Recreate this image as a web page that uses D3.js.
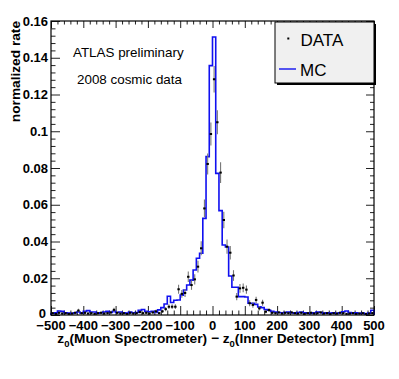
<!DOCTYPE html>
<head>
    <meta charset="utf-8">
    <style>
    body{
        margin: 0;
        background-color: white;
     }
     svg {
        background-color: white;
        font-family: 'Liberation Sans', Arial, sans-serif;
     }
     .tickLabel {
        font-size: 13px;
        font-weight: bold;
        fill: #000;
     }
     .axisTitle {
        font-size: 13.7px;
        font-weight: bold;
        fill: #000;
     }
     .note {
        font-size: 13.4px;
        fill: #000;
     }
     .legendText {
        font-size: 17px;
        fill: #000;
     }
    </style>
</head>

<body>
  <script src="https://d3js.org/d3.v7.min.js"></script>
  <script type="text/javascript">

  // DATA
  var binLow = d3.range(-500, 500, 10);   // lower edge of each 10 mm bin

  var mcRate = [
    0.0008, 0.0012, 0.0022, 0.0020, 0.0012, 0.0010, 0.0008, 0.0012, 0.0016, 0.0010,
    0.0020, 0.0024, 0.0016, 0.0016, 0.0010, 0.0012, 0.0016, 0.0020, 0.0014, 0.0020,
    0.0014, 0.0016, 0.0012, 0.0010, 0.0016, 0.0012, 0.0014, 0.0026, 0.0030, 0.0020,
    0.0018, 0.0020, 0.0014, 0.0028, 0.0040, 0.0060, 0.0102, 0.0068, 0.0080, 0.0082,
    0.0108, 0.0136, 0.0163, 0.0190, 0.0245, 0.0309, 0.0336, 0.0526, 0.0862, 0.1357,
    0.1513, 0.0771, 0.0568, 0.0381, 0.0370, 0.0212, 0.0151, 0.0151, 0.0100, 0.0100,
    0.0098, 0.0064, 0.0064, 0.0058, 0.0044, 0.0040, 0.0030, 0.0026, 0.0020, 0.0016,
    0.0014, 0.0012, 0.0014, 0.0016, 0.0012, 0.0010, 0.0014, 0.0016, 0.0012, 0.0010,
    0.0008, 0.0012, 0.0016, 0.0014, 0.0010, 0.0012, 0.0010, 0.0012, 0.0008, 0.0012,
    0.0018, 0.0022, 0.0014, 0.0010, 0.0012, 0.0008, 0.0010, 0.0006, 0.0010, 0.0026
  ];

  var dataRate = [
    0.0010, 0.0006, 0.0012, 0.0008, 0.0010, 0.0006, 0.0008, 0.0012, 0.0024, 0.0010,
    0.0012, 0.0008, 0.0010, 0.0006, 0.0010, 0.0012, 0.0008, 0.0010, 0.0014, 0.0028,
    0.0012, 0.0008, 0.0010, 0.0006, 0.0012, 0.0008, 0.0010, 0.0016, 0.0010, 0.0012,
    0.0008, 0.0014, 0.0020, 0.0010, 0.0020, 0.0032, 0.0045, 0.0045, 0.0045, 0.0140,
    0.0115, 0.0120, 0.0208, 0.0163, 0.0194, 0.0263, 0.0363, 0.0580, 0.0822, 0.0985,
    0.1283, 0.1049, 0.0775, 0.0517, 0.0372, 0.0339, 0.0215, 0.0100, 0.0145, 0.0148,
    0.0138, 0.0064, 0.0055, 0.0082, 0.0036, 0.0067, 0.0018, 0.0027, 0.0012, 0.0010,
    0.0014, 0.0008, 0.0012, 0.0010, 0.0014, 0.0010, 0.0008, 0.0012, 0.0006, 0.0010,
    0.0012, 0.0008, 0.0010, 0.0014, 0.0008, 0.0010, 0.0006, 0.0010, 0.0008, 0.0012,
    0.0010, 0.0006, 0.0008, 0.0010, 0.0006, 0.0008, 0.0010, 0.0006, 0.0008, 0.0010
  ];

  var dataErr = [
    0.0006, 0.0005, 0.0007, 0.0006, 0.0006, 0.0005, 0.0006, 0.0007, 0.0010, 0.0006,
    0.0007, 0.0006, 0.0006, 0.0005, 0.0006, 0.0007, 0.0006, 0.0006, 0.0007, 0.0011,
    0.0007, 0.0006, 0.0006, 0.0005, 0.0007, 0.0006, 0.0006, 0.0008, 0.0006, 0.0007,
    0.0006, 0.0007, 0.0009, 0.0006, 0.0009, 0.0011, 0.0013, 0.0013, 0.0013, 0.0024,
    0.0021, 0.0022, 0.0029, 0.0026, 0.0028, 0.0032, 0.0038, 0.0048, 0.0057, 0.0063,
    0.0072, 0.0065, 0.0056, 0.0045, 0.0039, 0.0037, 0.0029, 0.0020, 0.0024, 0.0024,
    0.0023, 0.0016, 0.0015, 0.0018, 0.0012, 0.0016, 0.0008, 0.0010, 0.0007, 0.0006,
    0.0007, 0.0006, 0.0007, 0.0006, 0.0007, 0.0006, 0.0006, 0.0007, 0.0005, 0.0006,
    0.0007, 0.0006, 0.0006, 0.0007, 0.0006, 0.0006, 0.0005, 0.0006, 0.0006, 0.0007,
    0.0006, 0.0005, 0.0006, 0.0006, 0.0005, 0.0006, 0.0006, 0.0005, 0.0006, 0.0006
  ];

  var xTicks = [-500, -400, -300, -200, -100, 0, 100, 200, 300, 400, 500];
  var xTickLabels = ['\u2212500', '\u2212400', '\u2212300', '\u2212200', '\u2212100', '0', '100', '200', '300', '400', '500'];
  var yTicks = [0, 0.02, 0.04, 0.06, 0.08, 0.1, 0.12, 0.14, 0.16];
  var yTickLabels = ['0', '0.02', '0.04', '0.06', '0.08', '0.1', '0.12', '0.14', '0.16'];
  var binWidth = 10;

  // DIMENSIONS
  width = 399, height = 379;
  margin = {top: 21, right: 25, bottom: 64, left: 51};

  svg = d3.select('body')
     .append('svg')
     .attr('width', width)
     .attr('height', height);

  // SCALES
  xScale = d3.scaleLinear([-500, 500], [margin.left, width - margin.right]);
  yScale = d3.scaleLinear([0, 0.16], [height - margin.bottom, margin.top]);

  x0 = margin.left, x1 = width - margin.right;
  y0 = height - margin.bottom, y1 = margin.top;

  xMinor = d3.range(-500, 501, 20).filter(v => v % 100 != 0);
  yMinor = d3.range(0, 0.1601, 0.004).filter(v => Math.abs(v / 0.02 - Math.round(v / 0.02)) > 0.01);

  // AXES (ticks inside the frame, ROOT style)
  function tickAxis(axis, values, size, transform) {
    svg.append('g')
      .attr('transform', transform)
      .call(axis.tickValues(values).tickSize(size).tickFormat(''))
      .call(g => g.select('.domain').remove())
      .call(g => g.selectAll('line').attr('stroke', '#222'));
  }
  tickAxis(d3.axisBottom(xScale), xTicks, -9, `translate(0,${y0})`);
  tickAxis(d3.axisBottom(xScale), xMinor, -4.5, `translate(0,${y0})`);
  tickAxis(d3.axisTop(xScale), xTicks, -7, `translate(0,${y1})`);
  tickAxis(d3.axisTop(xScale), xMinor, -3.5, `translate(0,${y1})`);
  tickAxis(d3.axisLeft(yScale), yTicks, -9, `translate(${x0},0)`);
  tickAxis(d3.axisLeft(yScale), yMinor, -4.5, `translate(${x0},0)`);
  tickAxis(d3.axisRight(yScale), yTicks, -8, `translate(${x1},0)`);
  tickAxis(d3.axisRight(yScale), yMinor, -4, `translate(${x1},0)`);

  // TICK LABELS
  svg.selectAll('.xlab')
    .data(xTicks)
    .enter().append('text')
    .attr('class', 'tickLabel')
    .attr('x', d => xScale(d))
    .attr('y', y0 + 14.5)
    .attr('text-anchor', 'middle')
    .text((d, i) => xTickLabels[i]);

  svg.selectAll('.ylab')
    .data(yTicks)
    .enter().append('text')
    .attr('class', 'tickLabel')
    .attr('x', d => x0 - (d == 0 ? 5 : 3))
    .attr('y', d => yScale(d) + (d == 0 ? 2.5 : 4.7))
    .attr('text-anchor', 'end')
    .text((d, i) => yTickLabels[i]);

  // MC HISTOGRAM
  pts = [[-500, 0]];
  binLow.forEach((lo, i) => { pts.push([lo, mcRate[i]]); pts.push([lo + binWidth, mcRate[i]]); });
  pts.push([500, 0]);

  histLine = d3.line()
     .x(d => xScale(d[0]))
     .y(d => yScale(d[1]));

  svg.append('path')
     .datum(pts)
     .attr('d', histLine)
     .attr('fill', 'none')
     .attr('stroke', '#1010f0')
     .attr('stroke-width', 1.6);

  // DATA POINTS
  dataG = svg.append('g');
  dataG.selectAll('.err')
    .data(binLow)
    .enter().append('line')
    .attr('x1', d => xScale(d + binWidth / 2))
    .attr('x2', d => xScale(d + binWidth / 2))
    .attr('y1', (d, i) => yScale(dataRate[i] - dataErr[i]))
    .attr('y2', (d, i) => yScale(dataRate[i] + dataErr[i]))
    .attr('stroke', '#777')
    .attr('stroke-width', 1.1);

  dataG.selectAll('.pt')
    .data(binLow)
    .enter().append('rect')
    .attr('x', d => xScale(d + binWidth / 2) - 1.2)
    .attr('y', (d, i) => yScale(dataRate[i]) - 1)
    .attr('width', 2.4)
    .attr('height', 2)
    .attr('fill', '#000');

  // FRAME
  svg.append('rect')
     .attr('x', x0)
     .attr('y', y1)
     .attr('width', x1 - x0)
     .attr('height', y0 - y1)
     .attr('fill', 'none')
     .attr('stroke', '#000')
     .attr('stroke-width', 1.2);

  // AXIS TITLES
  xTitle = svg.append('text')
     .attr('class', 'axisTitle')
     .attr('x', x1)
     .attr('y', 343)
     .attr('text-anchor', 'end');
  xTitle.append('tspan').text('z');
  xTitle.append('tspan').attr('dy', 4).attr('font-size', '9.5px').text('0');
  xTitle.append('tspan').attr('dy', -4).text('(Muon Spectrometer) \u2212 z');
  xTitle.append('tspan').attr('dy', 4).attr('font-size', '9.5px').text('0');
  xTitle.append('tspan').attr('dy', -4).text('(Inner Detector) [mm]');

  svg.append('text')
     .attr('class', 'axisTitle')
     .attr('transform', `translate(19.5,${y1}) rotate(-90)`)
     .attr('text-anchor', 'end')
     .text('normalized rate');

  // NOTES
  svg.append('text')
     .attr('class', 'note')
     .attr('x', 73)
     .attr('y', 57)
     .text('ATLAS preliminary');

  svg.append('text')
     .attr('class', 'note')
     .attr('x', 77)
     .attr('y', 83.5)
     .text('2008 cosmic data');

  // LEGEND
  legX = 275, legY = 22, legW = 99, legH = 61;
  svg.append('rect')
     .attr('x', legX + 2).attr('y', legY + 2)
     .attr('width', legW).attr('height', legH)
     .attr('fill', '#000');
  svg.append('rect')
     .attr('x', legX).attr('y', legY)
     .attr('width', legW).attr('height', legH)
     .attr('fill', '#f0f0f0')
     .attr('stroke', '#000')
     .attr('stroke-width', 1);

  svg.append('rect')
     .attr('x', 287.3).attr('y', 37.5)
     .attr('width', 2).attr('height', 2)
     .attr('fill', '#000');
  svg.append('text')
     .attr('class', 'legendText')
     .attr('x', 300.5).attr('y', 46)
     .text('DATA');

  svg.append('line')
     .attr('x1', 279).attr('x2', 296)
     .attr('y1', 69).attr('y2', 69)
     .attr('stroke', '#1010f0')
     .attr('stroke-width', 1.4);
  svg.append('text')
     .attr('class', 'legendText')
     .attr('x', 300).attr('y', 76)
     .text('MC');

  </script>
</body>
